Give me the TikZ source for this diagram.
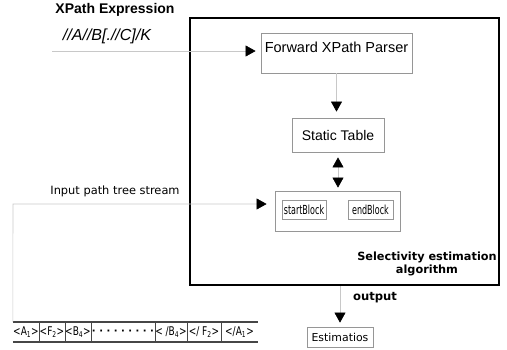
\documentclass[tikz,border=0pt]{standalone}
\usepackage{fontspec}
\setmainfont{Liberation Sans}
\newfontfamily\dvsans{DejaVu Sans}
\newfontfamily\dvnarrow{DejaVu Sans}[FakeStretch=0.64]
\newfontfamily\dvcell{DejaVu Sans}[FakeStretch=0.75]
\usetikzlibrary{arrows.meta, positioning}
\definecolor{mygrey}{RGB}{200,200,200}
\definecolor{myframe}{RGB}{150,150,150}
\definecolor{mydark}{RGB}{70,70,70}
\tikzset{
  box/.style={rectangle, draw=myframe, line width=0.8pt, inner sep=0pt},
  subbox/.style={box, font=\dvnarrow\fontsize{12.5}{14}\selectfont},
  cell/.style={inner sep=0pt, minimum height=20pt, font=\dvcell\fontsize{12}{14}\selectfont},
  arrow/.style={-{Triangle[width=11pt,length=10pt,color=black,fill=black]}, line width=0.6pt, draw=mygrey},
  dblarrow/.style={{Triangle[width=11pt,length=10pt,color=black,fill=black]}-{Triangle[width=11pt,length=10pt,color=black,fill=black]}, line width=0.6pt, draw=mygrey}
}

\begin{document}
\begin{tikzpicture}[x=1pt, y=-1pt]
  \useasboundingbox (0,0) rectangle (507,349);

  % XPath input
  \node[font=\bfseries\fontsize{14}{16}\selectfont] (xtitle) at (115,10) {XPath Expression};
  \node[font=\itshape\fontsize{16}{18}\selectfont] (xexpr) at (107,36) {//A//B[.//C]/K};
  \coordinate (xin) at (52,51);

  % Estimation algorithm
  \node[rectangle, draw, line width=2pt, minimum width=309pt, minimum height=267pt] (algo) at (344.5,151.5) {};
  \node[box, minimum width=151pt, minimum height=40pt, text depth=12pt, font=\fontsize{14.5}{16}\selectfont] (parser) at (336.5,53) {Forward XPath Parser};
  \node[box, minimum width=92pt, minimum height=34pt, font=\fontsize{14}{16}\selectfont] (table) at (338,135) {Static Table};
  \node[box, minimum width=125pt, minimum height=40pt] (block) at (337.5,211) {};
  \node[subbox, minimum width=44pt, minimum height=19pt] (sblock) at (304,209.5) {startBlock};
  \node[subbox, minimum width=45pt, minimum height=19pt] (eblock) at (370.5,209.5) {endBlock};
  \node[font=\dvsans\bfseries\fontsize{11.3}{12.5}\selectfont, align=center] (algolabel) at (427,264) {Selectivity estimation\\algorithm};

  \draw[arrow, shorten >=5pt] (xin) -- (xin -| parser.west);
  \draw[arrow, shorten >=6pt] (parser.south) -- (parser.south |- table.north);
  \draw[dblarrow, shorten <=5pt, shorten >=3pt] (table.south) -- (table.south |- block.north);

  % Output
  \node[font=\dvsans\bfseries\fontsize{11.6}{13}\selectfont] (outlabel) at (375,298) {output};
  \node[box, minimum width=66pt, minimum height=20pt, font=\dvsans\fontsize{10.9}{12}\selectfont] (est) at (340,337) {Estimatios};
  \draw[arrow, shorten >=4pt] (est.north |- algo.south) -- (est.north);

  % Input path tree stream
  \node[font=\dvsans\fontsize{11.4}{13}\selectfont] (streamlabel) at (115,191) {Input path tree stream};
  \foreach \i/\xa/\xb/\txt in {1/13/39/{<A\textsubscript{1}>}, 2/39/65/{<F\textsubscript{2}>}, 3/65/91/{<B\textsubscript{4}>}, 4/91/155/{\dvsans\bfseries\fontsize{10}{12}\selectfont · · · · · · · · ·}, 5/155/187/{< /B\textsubscript{4}>}, 6/187/221/{</ F\textsubscript{2}>}, 7/221/258/{</A\textsubscript{1}>}}
    \node[cell, minimum width={(\xb-\xa)*1pt}] (c\i) at ({(\xa+\xb)/2},332) {\txt};
  \draw[line width=1.5pt, mydark] (c1.north west) -- (c7.north east);
  \draw[line width=1.5pt, mydark] (c1.south west) -- (c7.south east);
  \foreach \i in {1,...,6}
    \draw[line width=0.8pt, mydark] (c\i.north east) -- (c\i.south east);
  \coordinate (inbend) at (13,204);
  \draw[arrow, shorten >=8pt] (c1.north west) -- (inbend) -- (inbend -| block.west);
\end{tikzpicture}
\end{document}
